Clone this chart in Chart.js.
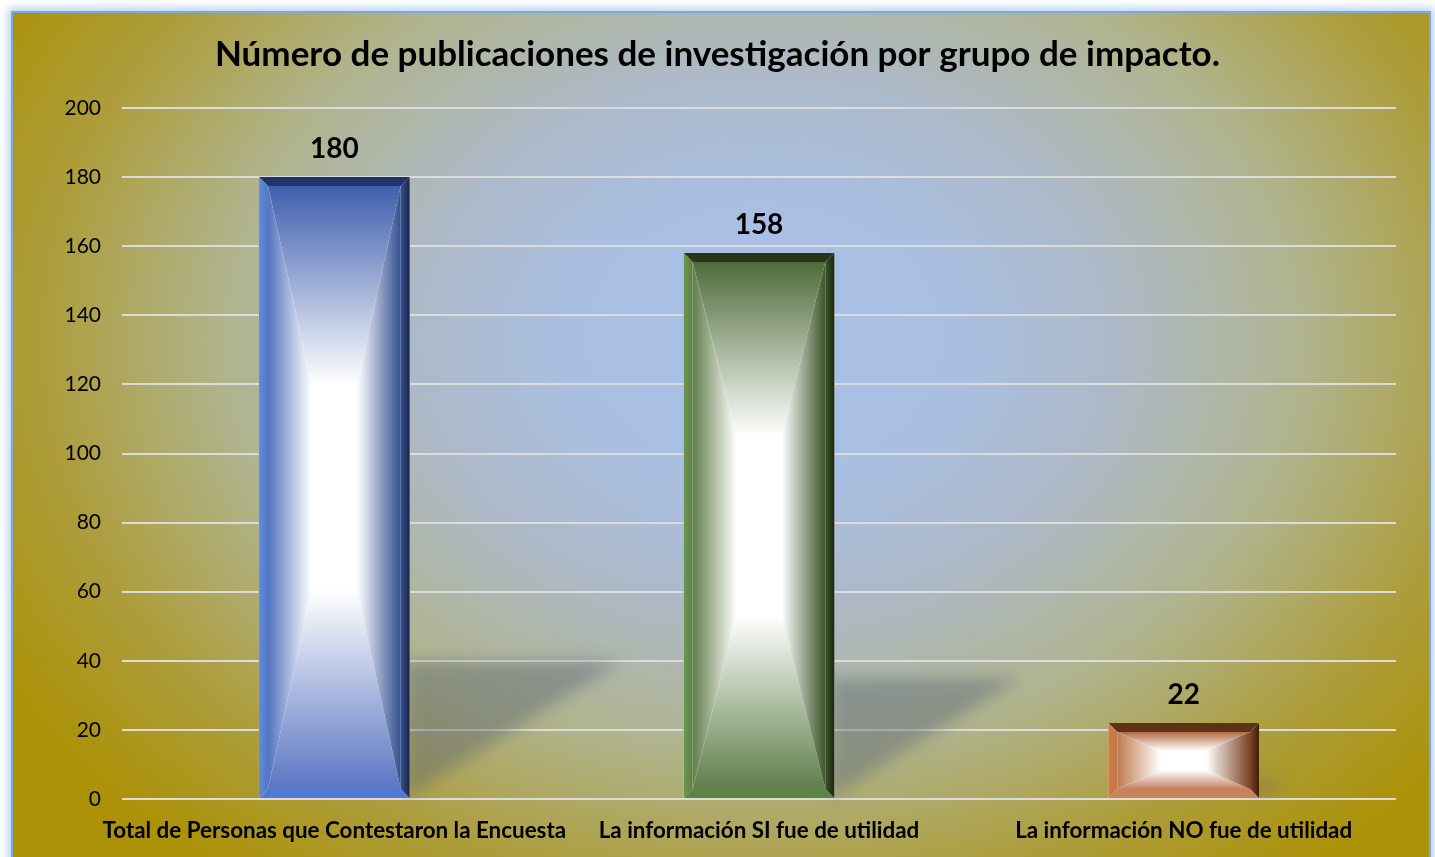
<!DOCTYPE html>
<html>
<head>
<meta charset="utf-8">
<script src="https://cdn.jsdelivr.net/npm/chart.js@4.4.1/dist/chart.umd.min.js"></script>
<style>
  html, body { margin: 0; padding: 0; background: #ffffff; width: 1435px; height: 857px; overflow: hidden; }
  #panel {
    position: absolute; left: 11px; top: 11px; width: 1416px; height: 860px;
    border: 2px solid #7fa7dc;
    box-shadow: 0 0 8px 3px rgba(150,190,235,0.7);
    background: radial-gradient(ellipse 62% 78% at 53% 38%, #a9c0e6 0%, #a9bfe2 22%, #adb9c8 40%, #b0b48c 62%, #ad9d3c 82%, #ab9208 100%);
  }
  #wrap { position: absolute; left: 0; top: 0; width: 1435px; height: 857px; }
</style>
</head>
<body>
<div id="panel"></div>
<div id="wrap"><canvas id="c" width="1435" height="857"></canvas></div>
<script>
const categories = [
  'Total de Personas que Contestaron la Encuesta',
  'La información SI fue de utilidad',
  'La información NO fue de utilidad'
];
const values = [180, 158, 22];
const titleText = 'Número de publicaciones de investigación por grupo de impacto.';

const barStyles = [
  { edge: '#3f5fae', left: '#5f8fe6', right: '#17254a', topBevel: '#1f3468', bottom: '#4f7ad6', side: '#5474c0', rightIn: '#34508f', low: '#5a76c4' },
  { edge: '#4f6c3b', left: '#6a9a50', right: '#1a2512', topBevel: '#26361a', bottom: '#5a8542', side: '#5f7d48', rightIn: '#3c552a', low: '#5f7f4a' },
  { edge: '#b06a44', left: '#d07a40', right: '#3e1e0c', topBevel: '#5e3216', bottom: '#c9835a', side: '#c07a50', rightIn: '#7a4424', low: '#c48060' }
];

function lg(ctx, x0, y0, x1, y1, c0, c1) {
  const g = ctx.createLinearGradient(x0, y0, x1, y1);
  g.addColorStop(0, c0); g.addColorStop(1, c1); return g;
}
function poly(ctx, pts, fill) {
  ctx.beginPath(); ctx.moveTo(pts[0][0], pts[0][1]);
  for (let i = 1; i < pts.length; i++) ctx.lineTo(pts[i][0], pts[i][1]);
  ctx.closePath(); ctx.fillStyle = fill; ctx.fill();
}

const shadowPlugin = {
  id: 'shadows',
  beforeDatasetsDraw(chart) {
    const ctx = chart.ctx;
    const meta = chart.getDatasetMeta(0);
    ctx.save();
    ctx.filter = 'blur(8px)';
    meta.data.forEach(el => {
      const p = el.getProps(['x', 'y', 'base', 'width'], true);
      const right = p.x + p.width / 2;
      const h = p.base - p.y;
      const sh = h * 0.22, sx = sh * 1.55;
      poly(ctx, [[right - 4, p.base], [right - 4, p.base - sh], [right + sx, p.base - sh]], 'rgba(85,95,115,0.42)');
    });
    ctx.restore();
  }
};

const bevelPlugin = {
  id: 'bevel',
  afterDatasetsDraw(chart) {
    const ctx = chart.ctx;
    const meta = chart.getDatasetMeta(0);
    ctx.save();
    meta.data.forEach((el, i) => {
      const s = barStyles[i];
      const p = el.getProps(['x', 'y', 'base', 'width'], true);
      const L = p.x - p.width / 2, R = p.x + p.width / 2, T = p.y, B = p.base;
      const b = 9;
      const l = L + b, r = R - b, t = T + b, bo = B - b;
      const cx = (L + R) / 2, cy = (T + B) / 2;
      const k = 0.17;
      const cw = (r - l) * k, ch = (bo - t) * k;
      const cl = cx - cw, cr = cx + cw, ct = cy - ch, cb = cy + ch;
      ctx.fillStyle = '#ffffff'; ctx.fillRect(L, T, R - L, B - T);
      poly(ctx, [[l, t], [r, t], [cr, ct], [cl, ct]], lg(ctx, 0, t, 0, ct, s.edge, '#ffffff'));
      poly(ctx, [[l, bo], [r, bo], [cr, cb], [cl, cb]], lg(ctx, 0, bo, 0, cb, s.low, '#ffffff'));
      poly(ctx, [[l, t], [cl, ct], [cl, cb], [l, bo]], lg(ctx, l, 0, cl, 0, s.side, '#ffffff'));
      poly(ctx, [[r, t], [cr, ct], [cr, cb], [r, bo]], lg(ctx, r, 0, cr, 0, s.rightIn, '#ffffff'));
      ctx.fillStyle = '#ffffff'; ctx.fillRect(cl, ct, cr - cl, cb - ct);
      poly(ctx, [[L, T], [R, T], [r, t], [l, t]], s.topBevel);
      poly(ctx, [[L, B], [R, B], [r, bo], [l, bo]], s.bottom);
      poly(ctx, [[L, T], [l, t], [l, bo], [L, B]], lg(ctx, L, 0, l, 0, s.left, s.side));
      poly(ctx, [[R, T], [r, t], [r, bo], [R, B]], lg(ctx, r, 0, R, 0, s.rightIn, s.right));
      ctx.fillStyle = '#000000';
      ctx.font = 'bold 28px Lato';
      ctx.textAlign = 'center';
      ctx.textBaseline = 'bottom';
      ctx.fillText(String(values[i]), p.x, T - 14);
    });
    ctx.restore();
  }
};

new Chart(document.getElementById('c'), {
  type: 'bar',
  data: {
    labels: categories,
    datasets: [{
      data: values,
      backgroundColor: 'rgba(0,0,0,0)',
      borderWidth: 0,
      barPercentage: 0.355,
      categoryPercentage: 1.0,
      yAxisID: 'y'
    }]
  },
  options: {
    responsive: false,
    animation: false,
    devicePixelRatio: 1,
    layout: { padding: { left: 0, right: 0, top: 0, bottom: 0 } },
    plugins: {
      legend: { display: false },
      tooltip: { enabled: false },
      title: {
        display: true,
        text: titleText,
        color: '#000000',
        font: { family: 'Lato', size: 35, weight: 'bold', lineHeight: 1.2 },
        padding: { top: 34, bottom: 32 }
      }
    },
    scales: {
      x: {
        afterFit(scale) { scale.height = 58; },
        grid: { display: false },
        border: { display: false },
        ticks: {
          color: '#000000',
          font: { family: 'Lato', size: 22.4, weight: 'bold', lineHeight: 1.2 },
          padding: 10,
          maxRotation: 0,
          autoSkip: false
        }
      },
      y: {
        min: 0, max: 200,
        afterFit(scale) { scale.width = 122; },
        grid: { color: '#dcdcdc', lineWidth: 2, drawTicks: false },
        border: { display: false },
        ticks: {
          stepSize: 20,
          color: '#000000',
          font: { family: 'Lato', size: 21 },
          padding: 21
        }
      },
      yRight: {
        type: 'linear',
        position: 'right',
        min: 0, max: 200,
        afterFit(scale) { scale.width = 39; },
        grid: { display: false, drawTicks: false },
        border: { display: false },
        ticks: { display: false }
      }
    }
  },
  plugins: [shadowPlugin, bevelPlugin]
});
</script>
</body>
</html>
